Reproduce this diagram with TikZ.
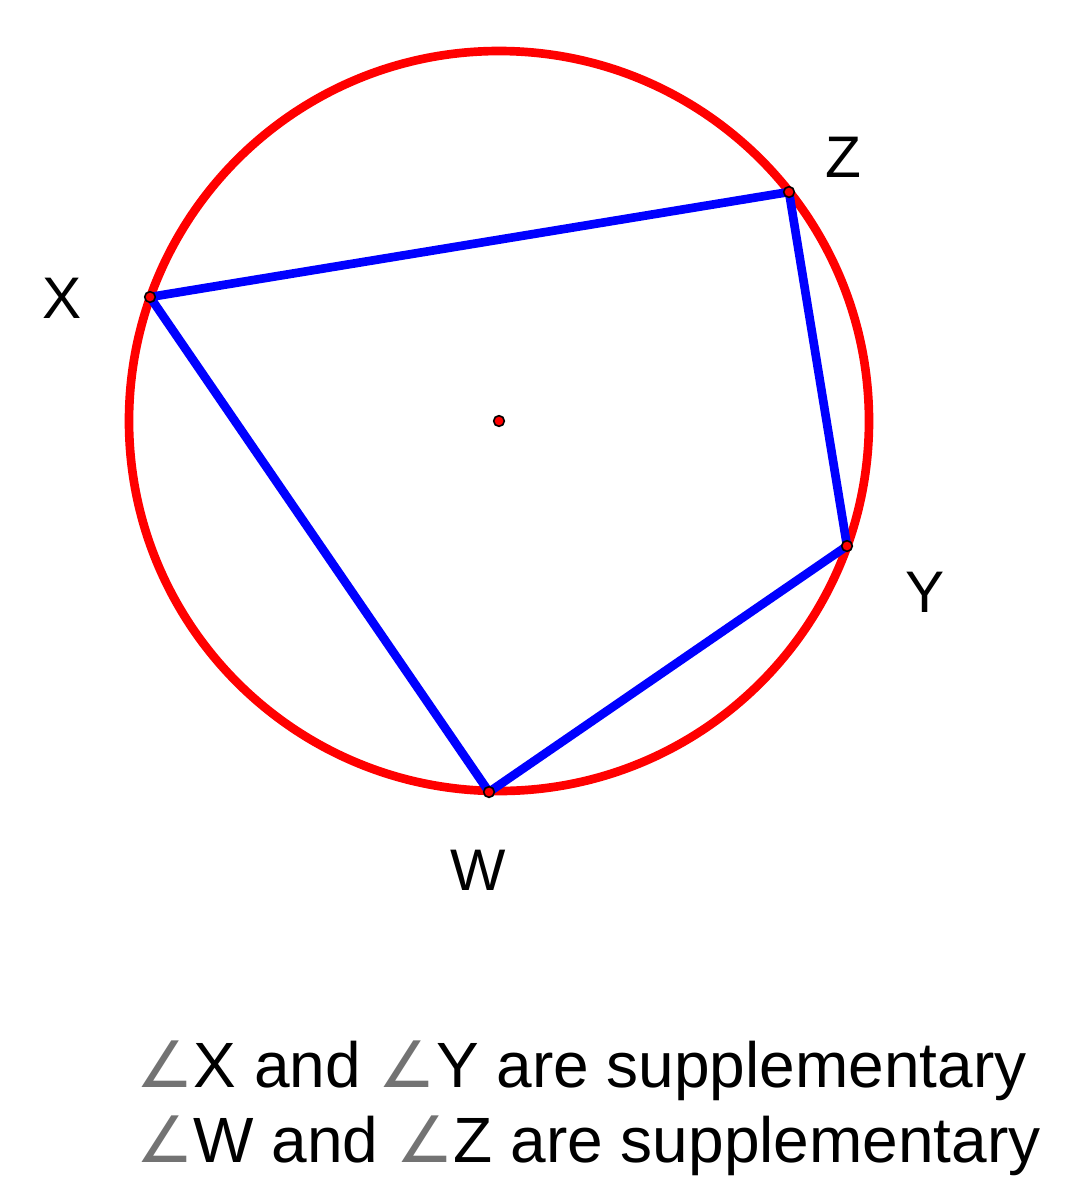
\documentclass[tikz,border=0pt]{standalone}
\usepackage{fontspec}
\setmainfont{Liberation Sans}
\newfontfamily\symfont{DejaVu Sans}
\newcommand{\angsym}{{\symfont\color{black!55}∠}}
\begin{document}
\begin{tikzpicture}[x=0.75pt,y=-0.75pt,
  circ/.style={draw=red,line width=6.5pt},
  side/.style={draw=blue,line width=6.5pt,line join=round},
  vdot/.style={circle,fill=red,draw=black,line width=1.2pt,inner sep=0pt,minimum size=8pt},
  lbl/.style={font=\fontsize{44}{50}\selectfont},
  txt/.style={font=\fontsize{48}{56}\selectfont,anchor=base west,inner sep=0pt}]
\useasboundingbox (0,0) rectangle (1066,1200);
\coordinate (O) at (499,421);
\draw[circ] (O) circle[radius=370];
\coordinate (Z) at (789,192);
\coordinate (X) at (150,297);
\coordinate (Y) at (847,546);
\coordinate (W) at (489,792);
\draw[side] (X) -- (Z) -- (Y) -- (W) -- cycle;
\node[vdot] (o) at (O) {};
\node[vdot] (z) at (Z) {};
\node[vdot] (x) at (X) {};
\node[vdot] (y) at (Y) {};
\node[vdot] (w) at (W) {};
\node[lbl] (lz) at (843,157) {Z};
\node[lbl] (lx) at (62,298) {X};
\node[lbl] (ly) at (925,592) {Y};
\node[lbl] (lw) at (478,870) {W};
\node[txt] (t1) at (136,1087) {\angsym X and \angsym Y are supplementary};
\node[txt] (t2) at (136,1162) {\angsym W and \angsym Z are supplementary};
\end{tikzpicture}
\end{document}
